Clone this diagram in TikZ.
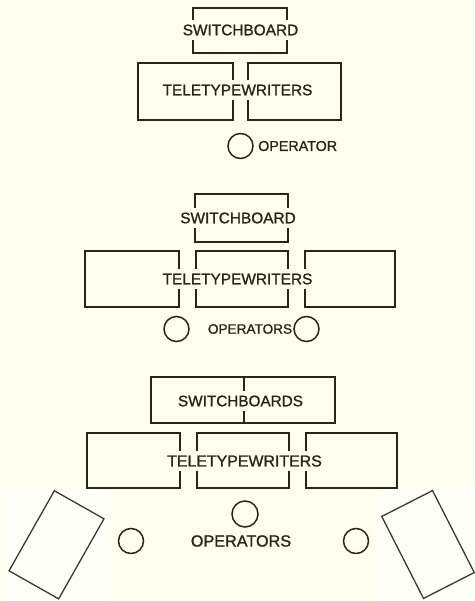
\documentclass[tikz,border=0pt]{standalone}
\usepackage{fontspec}
\setmainfont{Liberation Sans}[FakeBold=1.2]
\definecolor{bg}{HTML}{FFFFF0}
\definecolor{ink}{HTML}{2B2518}
\definecolor{inkl}{HTML}{3E3828}
\begin{document}
\begin{tikzpicture}[x=1pt,y=-1pt,
  box/.style={draw=ink, line width=1.7pt, inner sep=0pt, minimum width=#1},
  box/.default=93pt,
  lab/.style={fill=bg, text=ink, inner xsep=2pt, inner ysep=4.5pt, font=\fontsize{#1}{#1}\selectfont},
  lab/.default=15.4,
  oplab/.style={text=ink, inner sep=0pt, font=\fontsize{#1}{#1}\selectfont},
  op/.style={circle, draw=ink, line width=1.5pt, minimum size=25pt, inner sep=0pt},
  desk/.style={draw=inkl, line width=1.3pt, minimum width=57pt, minimum height=92pt, inner sep=0pt}]
% background and margins
\fill[bg] (0,0) rectangle (474,601);
\useasboundingbox (0,0) rectangle (474,601);
\fill[white!70!bg] (5,488) rectangle (107,601);
\fill[white!70!bg] (378,488) rectangle (474,601);

% ---------- top arrangement ----------
\node[box=94pt, minimum height=45pt] (sb1) at (240,30.5) {};
\node[box=95pt, minimum height=57pt] (tA) at (185.5,91.5) {};
\node[box=93pt, minimum height=57pt] (tB) at (294.5,91.5) {};
\node[lab] (sb1t) at (240.5,30) {SWITCHBOARD};
\node[lab] (tt1) at (237.5,90) {TELETYPEWRITERS};
\node[op] (o1) at (240.5,146) {};
\node[oplab=14.3, anchor=west] (o1t) at (258,146) {OPERATOR};

% ---------- middle arrangement ----------
\node[box=93pt, minimum height=48pt] (sb2) at (241.5,218) {};
\node[box=94pt, minimum height=56pt] (tC) at (132,279) {};
\node[box=92pt, minimum height=56pt] (tD) at (242,279) {};
\node[box=90pt, minimum height=56pt] (tE) at (350,279) {};
\node[lab] (sb2t) at (238,218) {SWITCHBOARD};
\node[lab] (tt2) at (237.5,279) {TELETYPEWRITERS};
\node[op] (o2) at (176.5,329) {};
\node[op] (o3) at (306.5,329) {};
\node[oplab=13.6] (o2t) at (250,329) {OPERATORS};

% ---------- bottom arrangement ----------
\node[box=184pt, minimum height=46pt] (sb3) at (243,400) {};
\draw[ink, line width=1.7pt] (sb3.north) ++(1,0) coordinate (dv1) -- (sb3.south -| dv1);
\node[box=93pt, minimum height=55pt] (tF) at (133.5,460.5) {};
\node[box=92pt, minimum height=55pt] (tG) at (243,460.5) {};
\node[box=91pt, minimum height=55pt] (tH) at (351.5,460.5) {};
\node[lab=15.3] (sb3t) at (240.5,401) {SWITCHBOARDS};
\node[lab=15.9] (tt3) at (244.5,461) {TELETYPEWRITERS};
\node[op, minimum size=26pt] (o4) at (245,514) {};
\node[op] (o5) at (131,541) {};
\node[op] (o6) at (356,541) {};
\node[oplab=16.2] (o4t) at (241,541) {OPERATORS};
\node[desk, rotate=-29.5] (d1) at (56.5,544.8) {};
\node[desk, rotate=27] (d2) at (428,544.5) {};
\end{tikzpicture}
\end{document}
